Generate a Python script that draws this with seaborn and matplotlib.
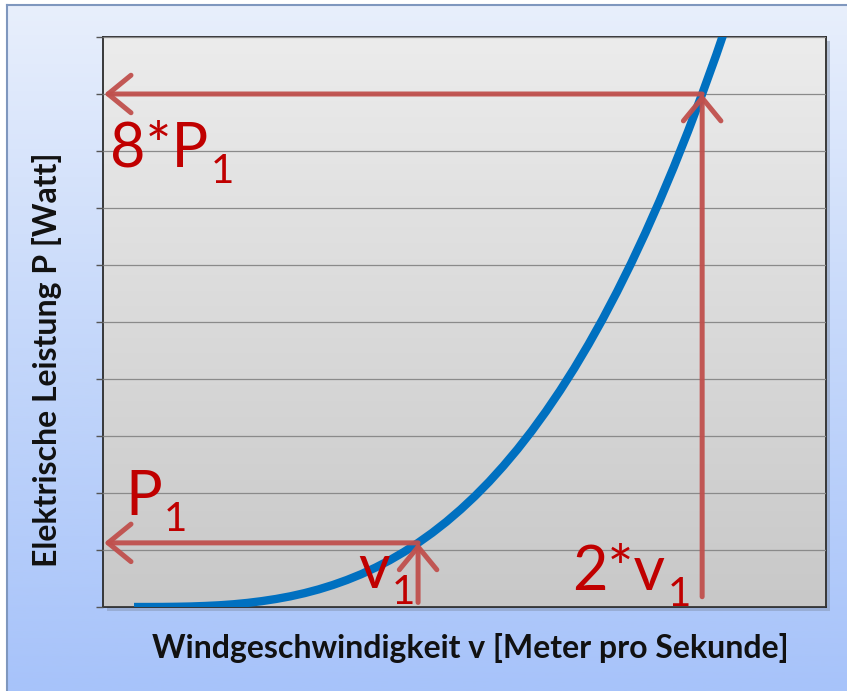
import numpy as np
import seaborn as sns
import matplotlib.pyplot as plt
from matplotlib.colors import LinearSegmentedColormap
from matplotlib.patches import Rectangle

# curve (wind speed v vs. electrical power P)
v_speed = [0, 0.25, 0.5, 0.75, 1, 1.25, 1.5, 1.75, 2, 2.25, 2.5, 2.75, 3,
           3.25, 3.5, 3.75, 4, 4.25, 4.5, 4.75, 5, 5.25, 5.5, 5.75, 6, 6.25,
           6.5, 6.75, 7, 7.25, 7.5, 7.75, 8, 8.25, 8.5, 8.75, 9, 9.25, 9.5,
           9.75, 10, 10.25, 10.5]
p_power = [0, 0.0001, 0.001, 0.004, 0.009, 0.018, 0.030, 0.048, 0.072, 0.103,
           0.141, 0.187, 0.243, 0.309, 0.386, 0.475, 0.576, 0.691, 0.820,
           0.965, 1.125, 1.302, 1.497, 1.711, 1.944, 2.197, 2.472, 2.768,
           3.087, 3.430, 3.797, 4.189, 4.608, 5.053, 5.527, 6.029, 6.561,
           7.123, 7.716, 8.342, 9.0, 9.69, 10.42]

v1, p1 = 5, 1.125
v2, p2 = 10, 9.0

grid_levels = list(range(0, 11))

red_arrow = '#C0504D'
red_text = '#C00000'

plt.rcParams['font.family'] = ['Lato', 'DejaVu Sans']

fig = plt.figure(figsize=(8.47, 6.91), dpi=100)
fig.patch.set_facecolor('white')

# background panel with blue gradient
bg = fig.add_axes([7/847, 0, 1 - 7/847, 1 - 5/691], zorder=-5)
bg_cmap = LinearSegmentedColormap.from_list('bg', ['#A7C3FA', '#C4D7FA', '#E8EFFC'])
bg.imshow(np.linspace(0, 1, 256).reshape(-1, 1), cmap=bg_cmap, aspect='auto',
          origin='lower', extent=[0, 1, 0, 1])
bg.set_xticks([])
bg.set_yticks([])
for s in ['right', 'bottom']:
    bg.spines[s].set_visible(False)
for s in ['left', 'top']:
    bg.spines[s].set_color('#7F97BE')
    bg.spines[s].set_linewidth(1.5)

ax_pos = [103/847, 84/691, 723/847, 570/691]

# drop shadow of plot area
fig.patches.append(Rectangle((ax_pos[0] + 4/847, ax_pos[1] - 4/691), ax_pos[2], ax_pos[3],
                             transform=fig.transFigure, facecolor='#7F8FAA',
                             alpha=0.45, edgecolor='none', zorder=-1))

ax = fig.add_axes(ax_pos, zorder=1)
xmin, xmax = -0.546, 12.18
ymin, ymax = 0, 10
ax.set_xlim(xmin, xmax)
ax.set_ylim(ymin, ymax)

pa_cmap = LinearSegmentedColormap.from_list('pa', ['#C8C8C8', '#DADADA', '#ECECEC'])
ax.imshow(np.linspace(0, 1, 256).reshape(-1, 1), cmap=pa_cmap, aspect='auto',
          origin='lower', extent=[xmin, xmax, ymin, ymax], zorder=0)

ax.set_yticks(grid_levels)
ax.set_yticklabels([])
ax.set_xticks([])
ax.grid(axis='y', color='#8A8A8A', linewidth=0.9, zorder=1)
ax.set_axisbelow(False)
ax.tick_params(axis='y', length=5, width=1, color='#555555', direction='out')
for s in ax.spines.values():
    s.set_color('#2B2B2B')
    s.set_linewidth(1.3)

sns.lineplot(x=v_speed, y=p_power, ax=ax, color='#0070C0', linewidth=6,
             zorder=3, solid_capstyle='butt')

arrow_kw = dict(arrowstyle='->,head_length=0.55,head_width=0.45', color=red_arrow,
                lw=3.6, mutation_scale=30, shrinkA=0, shrinkB=0, alpha=0.95)

# v1 -> P1
ax.annotate('', xy=(v1, p1), xytext=(v1, 0.08), arrowprops=arrow_kw, zorder=4)
ax.annotate('', xy=(xmin + 0.02, p1), xytext=(v1, p1), arrowprops=arrow_kw, zorder=4)
# 2*v1 -> 8*P1
ax.annotate('', xy=(v2, p2), xytext=(v2, 0.18), arrowprops=arrow_kw, zorder=4)
ax.annotate('', xy=(xmin + 0.02, p2), xytext=(v2, p2), arrowprops=arrow_kw, zorder=4)


def label(x, y, main, size=44):
    t = ax.text(x, y, main, transform=ax.transAxes, color=red_text, fontsize=size,
                va='baseline', ha='left', zorder=5)
    ax.annotate('1', xy=(1, y), xycoords=(t, 'axes fraction'),
                xytext=(1.5, -11.5), textcoords='offset points',
                color=red_text, fontsize=size * 0.66, va='baseline', ha='left',
                zorder=5)


label(0.0097, 0.772, '8*P')
label(0.0304, 0.161, 'P')
label(0.353, 0.033, 'v')
label(0.649, 0.030, '2*v')

fig.text(0.0555, 0.479, 'Elektrische Leistung P [Watt]', rotation=90,
         ha='center', va='center', fontsize=23, fontweight='bold', color='#111111')
fig.text(0.555, 0.062, 'Windgeschwindigkeit v [Meter pro Sekunde]',
         ha='center', va='center', fontsize=23, fontweight='bold', color='#111111')

fig.savefig('out.png', dpi=100)
